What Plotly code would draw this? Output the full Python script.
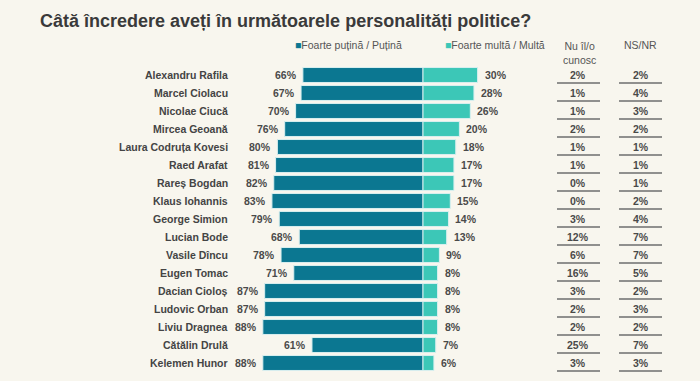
import plotly.graph_objects as go

names = ["Alexandru Rafila", "Marcel Ciolacu", "Nicolae Ciucă", "Mircea Geoană",
         "Laura Codruța Kovesi", "Raed Arafat", "Rareș Bogdan", "Klaus Iohannis",
         "George Simion", "Lucian Bode", "Vasile Dîncu", "Eugen Tomac",
         "Dacian Cioloș", "Ludovic Orban", "Liviu Dragnea", "Cătălin Drulă",
         "Kelemen Hunor"]
low = [66, 67, 70, 76, 80, 81, 82, 83, 79, 68, 78, 71, 87, 87, 88, 61, 88]
high = [30, 28, 26, 20, 18, 17, 17, 15, 14, 13, 9, 8, 8, 8, 8, 7, 6]
unknown = [2, 1, 1, 2, 1, 1, 0, 0, 3, 12, 6, 16, 3, 2, 2, 25, 3]
nsnr = [2, 4, 3, 2, 1, 1, 1, 2, 4, 7, 7, 5, 2, 3, 2, 7, 3]

title = "Câtă încredere aveți în următoarele personalități politice?"
leg_low = "Foarte puțină / Puțină"
leg_high = "Foarte multă / Multă"
col_unknown = "Nu îl/o<br>cunosc"
col_nsnr = "NS/NR"

DARK = "#0b7791"
LIGHT = "#3cc7b7"
BG = "#f8f6ee"
TXT = "#4a4a4a"
W, H = 700, 381
PXU = 1.82      # pixels per percent
CX = 423        # pixel of zero
ROW0, ROWH = 75, 18

fig = go.Figure()
fig.add_trace(go.Bar(x=[-v for v in low], y=names, orientation="h",
                     marker=dict(color=DARK, line=dict(color="#d8efef", width=1)),
                     width=0.83, hoverinfo="skip", name=leg_low))
fig.add_trace(go.Bar(x=high, y=names, orientation="h",
                     marker=dict(color=LIGHT, line=dict(color="#d8efef", width=1)),
                     width=0.83, hoverinfo="skip", name=leg_high))

ann = []
shapes = []
f_lab = dict(family="Liberation Sans, Arial", size=10.5, color=TXT)
for i, n in enumerate(names):
    ann.append(dict(x=230 / W, xref="paper", y=n, yref="y", text="<b>%s</b>" % n,
                    xanchor="right", yanchor="middle", showarrow=False,
                    font=dict(family="Liberation Sans, Arial", size=10.5, color="#444")))
    ann.append(dict(x=-low[i], xref="x", y=n, yref="y", text="<b>%d%%</b>" % low[i],
                    xanchor="right", yanchor="middle", showarrow=False, xshift=-4, font=f_lab))
    ann.append(dict(x=high[i], xref="x", y=n, yref="y", text="<b>%d%%</b>" % high[i],
                    xanchor="left", yanchor="middle", showarrow=False, xshift=5, font=f_lab))
    ann.append(dict(x=578 / W, xref="paper", y=n, yref="y", text="<b>%d%%</b>" % unknown[i],
                    xanchor="center", yanchor="middle", showarrow=False, font=f_lab))
    ann.append(dict(x=641 / W, xref="paper", y=n, yref="y", text="<b>%d%%</b>" % nsnr[i],
                    xanchor="center", yanchor="middle", showarrow=False, font=f_lab))
    for x0, x1 in ((557, 600), (619, 662)):
        shapes.append(dict(type="line", xref="paper", yref="y", x0=x0 / W, x1=x1 / W,
                           y0=i + 0.45, y1=i + 0.45, line=dict(color="#6e6e6e", width=1.5)))

ann.append(dict(x=38 / W, xref="paper", y=1 - 21 / H, yref="paper", text="<b>%s</b>" % title,
                xanchor="left", yanchor="middle", showarrow=False,
                font=dict(family="Liberation Sans, Arial", size=18, color="#3a3a3a")))
f_leg = dict(family="Liberation Sans, Arial", size=10.5, color="#555")
ann.append(dict(x=293 / W, xref="paper", y=1 - 45 / H, yref="paper",
                text='<span style="color:%s">■</span>%s' % (DARK, leg_low),
                xanchor="left", yanchor="middle", showarrow=False, font=f_leg))
ann.append(dict(x=443 / W, xref="paper", y=1 - 45 / H, yref="paper",
                text='<span style="color:%s">■</span>%s' % (LIGHT, leg_high),
                xanchor="left", yanchor="middle", showarrow=False, font=f_leg))
ann.append(dict(x=579 / W, xref="paper", y=1 - 38 / H, yref="paper", text=col_unknown,
                xanchor="center", yanchor="top", showarrow=False, font=f_leg))
ann.append(dict(x=640 / W, xref="paper", y=1 - 45 / H, yref="paper", text=col_nsnr,
                xanchor="center", yanchor="middle", showarrow=False, font=f_leg))

fig.update_layout(
    width=W, height=H, autosize=False,
    margin=dict(l=0, r=0, t=0, b=0),
    paper_bgcolor=BG, plot_bgcolor=BG,
    barmode="relative", showlegend=False,
    xaxis=dict(range=[-CX / PXU, (W - CX) / PXU], visible=False, fixedrange=True),
    yaxis=dict(type="category", categoryarray=names,
               range=[(H - ROW0) / ROWH, -ROW0 / ROWH], visible=False, fixedrange=True),
    annotations=ann, shapes=shapes,
)
fig.write_html("out.html", config={"displayModeBar": False},
               post_script="document.body.style.margin='0';document.body.style.overflow='hidden';"
                           "document.body.style.background='%s';" % BG)
